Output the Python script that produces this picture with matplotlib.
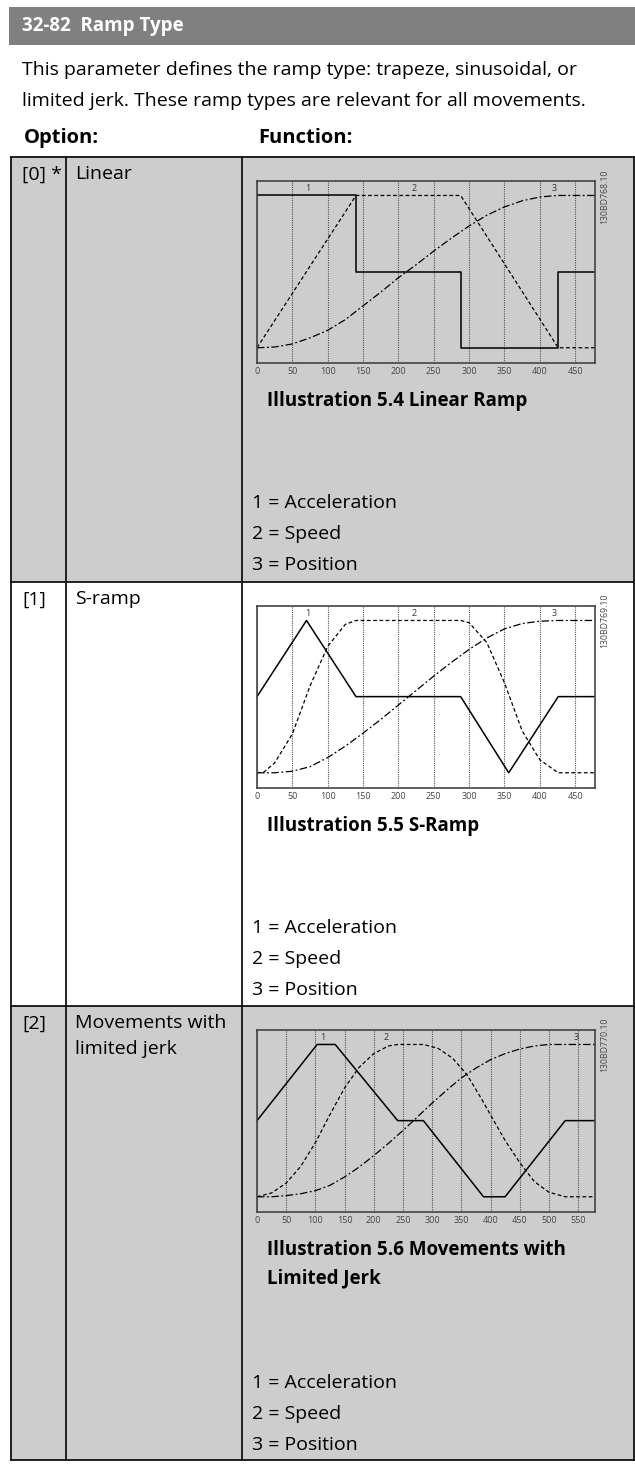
import matplotlib as mpl
mpl.use('Agg')
import matplotlib.pyplot as plt
from matplotlib.patches import Rectangle

plt.rcParams['font.family'] = ['Open Sans', 'DejaVu Sans']

W, H = 635, 1466

# ---- data (y: 0 = low, 1 = zero, 2 = high) ----
lin_acc_x = [0, 140, 140, 288, 288, 426, 426, 478]
lin_acc_y = [2, 2, 1, 1, 0, 0, 1, 1]
lin_spd_x = [0, 140, 288, 426, 478]
lin_spd_y = [0, 2, 2, 0, 0]
lin_pos_x = [0, 25, 50, 75, 100, 125, 150, 175, 200, 225, 250, 275, 300, 325, 350, 375, 400, 425, 478]
lin_pos_y = [0, 0.01, 0.05, 0.13, 0.23, 0.37, 0.55, 0.73, 0.92, 1.09, 1.27, 1.44, 1.6, 1.74, 1.85, 1.93, 1.98, 2.0, 2.0]

s_acc_x = [0, 70, 140, 288, 356, 426, 478]
s_acc_y = [1, 2, 1, 1, 0, 1, 1]
s_spd_x = [0, 10, 25, 50, 75, 100, 125, 140, 288, 300, 325, 350, 375, 400, 426, 478]
s_spd_y = [0, 0.01, 0.13, 0.51, 1.14, 1.66, 1.95, 2.0, 2.0, 1.97, 1.71, 1.18, 0.55, 0.17, 0.0, 0.0]
s_pos_x = [0, 25, 50, 75, 100, 125, 150, 175, 200, 225, 250, 275, 300, 325, 350, 375, 400, 425, 478]
s_pos_y = [0, 0.0, 0.02, 0.08, 0.2, 0.35, 0.52, 0.7, 0.89, 1.08, 1.27, 1.45, 1.62, 1.77, 1.89, 1.96, 1.99, 2.0, 2.0]

j_acc_x = [0, 103, 134, 241, 285, 388, 425, 528, 579]
j_acc_y = [1, 2, 2, 1, 1, 0, 0, 1, 1]
j_spd_x = [0, 25, 50, 75, 100, 125, 150, 175, 200, 225, 241, 285, 310, 335, 360, 385, 410, 425, 450, 475, 500, 528, 579]
j_spd_y = [0, 0.05, 0.18, 0.4, 0.71, 1.08, 1.43, 1.7, 1.88, 1.98, 2.0, 2.0, 1.95, 1.82, 1.6, 1.28, 0.94, 0.74, 0.45, 0.2, 0.06, 0, 0]
j_pos_x = [0, 25, 50, 75, 100, 125, 150, 175, 200, 225, 250, 275, 300, 325, 350, 375, 400, 425, 450, 475, 500, 528, 579]
j_pos_y = [0, 0.0, 0.015, 0.04, 0.08, 0.15, 0.26, 0.39, 0.54, 0.7, 0.87, 1.05, 1.23, 1.4, 1.56, 1.69, 1.8, 1.88, 1.94, 1.98, 2.0, 2.0, 2.0]

ticks_short = [0, 50, 100, 150, 200, 250, 300, 350, 400, 450]
ticks_long = [0, 50, 100, 150, 200, 250, 300, 350, 400, 450, 500, 550]

options = ['[0] *', '[1]', '[2]']
option_names = ['Linear', 'S-ramp', 'Movements with\nlimited jerk']
captions = ['Illustration 5.4 Linear Ramp', 'Illustration 5.5 S-Ramp',
            'Illustration 5.6 Movements with\nLimited Jerk']
codes = ['130BD768.10', '130BD769.10', '130BD770.10']
legend_lines = ['1 = Acceleration', '2 = Speed', '3 = Position']

REG = 14
BOLD = 13.5


def fx(x):
    return x / W


def fy(y):
    return 1 - y / H


fig = plt.figure(figsize=(W / 100, H / 100), dpi=100)

# header bar
fig.add_artist(Rectangle((fx(9), fy(45)), fx(626), 38 / H, color='#808080', lw=0, zorder=-5))
fig.text(fx(22), fy(26), '32-82  Ramp Type', color='white', fontsize=BOLD, fontweight='bold', va='center')
fig.text(fx(22), fy(70), 'This parameter defines the ramp type: trapeze, sinusoidal, or', fontsize=REG, va='center')
fig.text(fx(22), fy(101), 'limited jerk. These ramp types are relevant for all movements.', fontsize=REG, va='center')
fig.text(fx(24), fy(138), 'Option:', fontsize=14.5, fontweight='bold', va='center')
fig.text(fx(258), fy(138), 'Function:', fontsize=14.5, fontweight='bold', va='center')

# table rows
row_top = [157, 582, 1006]
row_bot = [582, 1006, 1460]
row_col = ['#cdcdcd', 'white', '#cdcdcd']
for t, b, c in zip(row_top, row_bot, row_col):
    fig.add_artist(Rectangle((fx(11), fy(b)), fx(623), (b - t) / H, color=c, lw=0, zorder=-5))
for y in [157, 582, 1006, 1460]:
    fig.add_artist(plt.Line2D([fx(11), fx(634)], [fy(y), fy(y)], color='#111', lw=1.3))
for x in [11, 66, 242, 634]:
    fig.add_artist(plt.Line2D([fx(x), fx(x)], [fy(157), fy(1460)], color='#111', lw=1.3))

charts = [
    (lin_acc_x, lin_acc_y, lin_spd_x, lin_spd_y, lin_pos_x, lin_pos_y, 478, ticks_short, [72, 222, 421]),
    (s_acc_x, s_acc_y, s_spd_x, s_spd_y, s_pos_x, s_pos_y, 478, ticks_short, [72, 222, 421]),
    (j_acc_x, j_acc_y, j_spd_x, j_spd_y, j_pos_x, j_pos_y, 579, ticks_long, [112, 222, 546]),
]

for i, (ax_, ay, sx, sy, px, py, xmax, ticks, lab_x) in enumerate(charts):
    top = row_top[i] + 24
    ax = fig.add_axes([fx(257), fy(top + 182), 338 / W, 182 / H])
    ax.set_zorder(5)
    ax.set_facecolor('none')
    ax.plot(ax_, ay, color='black', lw=1.1)
    ax.plot(sx, sy, color='black', lw=0.9, linestyle=(0, (3, 2)))
    ax.plot(px, py, color='black', lw=0.9, linestyle=(0, (6, 2, 1.5, 2)))
    ax.set_xlim(0, xmax)
    ax.set_ylim(-0.2, 2.19)
    ax.set_xticks(ticks)
    ax.set_xticklabels([str(t) for t in ticks], fontsize=6.5, color='#444')
    ax.tick_params(axis='x', length=0, pad=3)
    ax.set_yticks([])
    ax.grid(axis='x', linestyle=(0, (1, 1)), color='#555', lw=0.8)
    for sp in ax.spines.values():
        sp.set_color('#444')
        sp.set_linewidth(1.2)
    for n, lx in enumerate(lab_x):
        ax.text(lx, 2.09, str(n + 1), fontsize=6.5, color='#333', ha='center', va='center')
    fig.text(fx(605), fy(top - 12), codes[i], rotation=90, fontsize=6.3, color='#444',
             ha='center', va='top')

    # option cells
    fig.text(fx(22), fy(row_top[i] + 18), options[i], fontsize=REG, va='center')
    fig.text(fx(75), fy(row_top[i] + 8), option_names[i], fontsize=REG, va='top', linespacing=1.55)

    # caption and legend
    fig.text(fx(267), fy(top + 210), captions[i], fontsize=BOLD, fontweight='bold', va='top', linespacing=1.55)
    leg_top = top + 322 if i < 2 else top + 353
    for k, s in enumerate(legend_lines):
        fig.text(fx(252), fy(leg_top + 31 * k), s, fontsize=REG, va='center')

fig.savefig('out.png', dpi=100)
